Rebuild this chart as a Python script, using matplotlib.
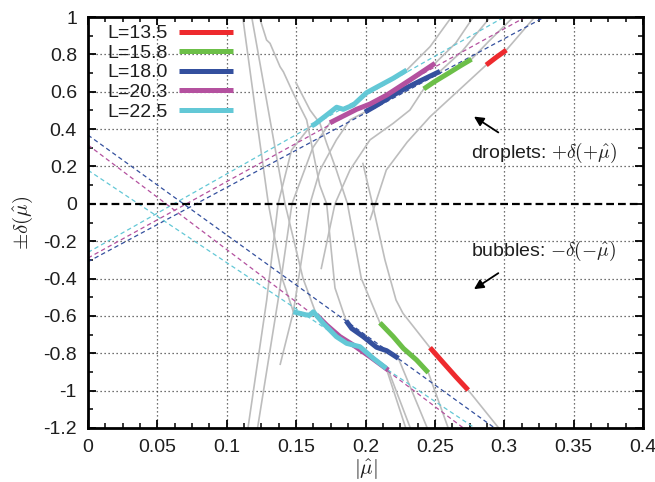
import numpy as np
import matplotlib
matplotlib.use("Agg")
import matplotlib.pyplot as plt
from matplotlib.ticker import FixedLocator, FixedFormatter, MultipleLocator

plt.rcParams['font.family'] = ['Liberation Sans', 'DejaVu Sans']
plt.rcParams['mathtext.fontset'] = 'cm'

# ---- data -------------------------------------------------------------
L_labels = ["L=13.5", "L=15.8", "L=18.0", "L=20.3", "L=22.5"]
L_colors = ["#ee2a2e", "#6cbf48", "#34509e", "#b4519f", "#63c8d6"]

# droplet branch (+delta(+mu)), selected windows
up_red_x = [0.287, 0.294, 0.3015]
up_red_y = [0.743, 0.783, 0.823]
up_green_x = [0.242, 0.250, 0.260, 0.268, 0.2764]
up_green_y = [0.615, 0.655, 0.700, 0.737, 0.774]
up_blue_x = [0.1996, 0.2080, 0.2177, 0.2280, 0.2400, 0.2537]
up_blue_y = [0.491, 0.527, 0.572, 0.615, 0.660, 0.709]
up_mag_x = [0.1744, 0.1840, 0.1936, 0.2032, 0.2153, 0.2321, 0.2501]
up_mag_y = [0.434, 0.470, 0.506, 0.534, 0.582, 0.663, 0.752]
up_cyan_x = [0.1612, 0.1636, 0.1720, 0.1792, 0.1840, 0.1912, 0.2008, 0.2080, 0.2200, 0.2297]
up_cyan_y = [0.417, 0.427, 0.475, 0.517, 0.506, 0.529, 0.595, 0.624, 0.672, 0.716]

# bubble branch (-delta(-mu)), selected windows
lo_red_x = [0.2465, 0.2560, 0.2650, 0.2740]
lo_red_y = [-0.770, -0.850, -0.925, -0.997]
lo_green_x = [0.2104, 0.2200, 0.2273, 0.2368, 0.2453]
lo_green_y = [-0.637, -0.711, -0.774, -0.836, -0.904]
lo_blue_x = [0.1860, 0.1900, 0.1984, 0.2080, 0.2152, 0.2237]
lo_blue_y = [-0.626, -0.667, -0.711, -0.768, -0.786, -0.827]
lo_mag_x = [0.1647, 0.1720, 0.1816, 0.1912, 0.2032, 0.2164]
lo_mag_y = [-0.595, -0.649, -0.711, -0.756, -0.818, -0.890]
lo_cyan_x = [0.1480, 0.1575, 0.1600, 0.1624, 0.1696, 0.1790, 0.1864, 0.1960, 0.2056, 0.2150]
lo_cyan_y = [-0.578, -0.595, -0.595, -0.578, -0.640, -0.711, -0.747, -0.765, -0.827, -0.881]

# full delta curves (grey), droplet family
gu_cyan_x = [0.1153, 0.1288, 0.1370, 0.1467, 0.1600] + up_cyan_x + [0.2465, 0.2620]
gu_cyan_y = [-1.20, -0.515, 0.000, 0.288, 0.413] + up_cyan_y + [0.841, 1.000]
gu_mag_x = [0.1222, 0.1370, 0.1470, 0.1620] + up_mag_x + [0.2650, 0.2777]
gu_mag_y = [-1.20, -0.515, 0.000, 0.300] + up_mag_y + [0.860, 1.000]
gu_blue_x = [0.1384, 0.1480, 0.1560, 0.1600, 0.1672, 0.1790, 0.1888] + up_blue_x + [0.2700, 0.2900]
gu_blue_y = [-0.863, -0.578, -0.200, 0.000, 0.181, 0.342, 0.449] + up_blue_y + [0.820, 1.000]
gu_green_x = [0.1680, 0.1780, 0.1888, 0.2032, 0.2200, 0.2320] + up_green_x + [0.2886, 0.3066]
gu_green_y = [-0.350, 0.000, 0.181, 0.342, 0.431, 0.502] + up_green_y + [0.868, 1.000]
gu_red_x = [0.2032, 0.2150, 0.2300, 0.2465] + up_red_x + [0.3220]
gu_red_y = [-0.088, 0.181, 0.330, 0.466] + up_red_y + [1.000]

# full delta curves (grey), bubble family
gl_cyan_x = [0.1115, 0.1216, 0.1300, 0.1400] + lo_cyan_x + [0.2290]
gl_cyan_y = [1.000, 0.449, 0.000, -0.400] + lo_cyan_y + [-1.200]
gl_mag_x = [0.1180, 0.1312, 0.1420, 0.1550] + lo_mag_x + [0.2323]
gl_mag_y = [1.000, 0.449, 0.000, -0.400] + lo_mag_y + [-1.200]
gl_blue_x = [0.1235, 0.1287, 0.1312, 0.1384, 0.1408, 0.1479, 0.1576, 0.1670, 0.1720, 0.1780] + lo_blue_x + [0.2445]
gl_blue_y = [1.000, 0.877, 0.859, 0.734, 0.707, 0.592, 0.449, 0.100, 0.000, -0.450] + lo_blue_y + [-1.200]
gl_green_x = [0.1495, 0.1600, 0.1672, 0.1720, 0.1790, 0.1870, 0.1970] + lo_green_x + [0.2596]
gl_green_y = [0.654, 0.502, 0.430, 0.324, 0.181, 0.000, -0.400] + lo_green_y + [-1.200]
gl_red_x = [0.1980, 0.2050, 0.2140, 0.2220, 0.2270] + lo_red_x + [0.2960]
gl_red_y = [0.220, 0.000, -0.300, -0.515, -0.586] + lo_red_y + [-1.200]

# linear fits (intercept, slope) for L=18.0, 20.3, 22.5
fit_colors = ["#34509e", "#b4519f", "#63c8d6"]
fit_up_a = [-0.31, -0.29, -0.26]
fit_up_b = [3.98, 4.09, 4.20]
fit_lo_a = [0.368, 0.315, 0.180]
fit_lo_b = [-5.35, -5.60, -4.95]

xticks = [0, 0.05, 0.1, 0.15, 0.2, 0.25, 0.3, 0.35, 0.4]
xtick_labels = ["0", "0.05", "0.1", "0.15", "0.2", "0.25", "0.3", "0.35", "0.4"]
yticks = [1, 0.8, 0.6, 0.4, 0.2, 0, -0.2, -0.4, -0.6, -0.8, -1, -1.2]
ytick_labels = ["1", "0.8", "0.6", "0.4", "0.2", "0", "-0.2", "-0.4", "-0.6", "-0.8", "-1", "-1.2"]

# ---- figure -----------------------------------------------------------
W, H = 655, 482
fig = plt.figure(figsize=(W / 100, H / 100), dpi=100)
ax = fig.add_axes([88 / W, 1 - 428 / H, (643 - 88) / W, (428 - 17) / H])
ax.set_xlim(0, 0.4)
ax.set_ylim(-1.2, 1.0)

txt = "#1e1e1e"
grey = "#bdbdbd"

# grid
for xv in xticks[1:-1]:
    ax.axvline(xv, color="#444444", lw=0.9, ls=(0, (1, 2.2)), zorder=0)
for yv in yticks[1:-1]:
    if yv != 0:
        ax.axhline(yv, color="#444444", lw=0.9, ls=(0, (1, 2.2)), zorder=0)

# grey full curves
for gx, gy in [(gu_cyan_x, gu_cyan_y), (gu_mag_x, gu_mag_y), (gu_blue_x, gu_blue_y),
               (gu_green_x, gu_green_y), (gu_red_x, gu_red_y),
               (gl_cyan_x, gl_cyan_y), (gl_mag_x, gl_mag_y), (gl_blue_x, gl_blue_y),
               (gl_green_x, gl_green_y), (gl_red_x, gl_red_y)]:
    ax.plot(gx, gy, color=grey, lw=1.2, zorder=1, solid_capstyle="butt")

# linear fits
xx = np.linspace(0, 0.4, 400)
for c, a, b in zip(fit_colors, fit_up_a, fit_up_b):
    ax.plot(xx, a + b * xx, color=c, lw=0.9, ls=(0, (3.5, 2.5)), zorder=2)
for c, a, b in zip(fit_colors, fit_lo_a, fit_lo_b):
    ax.plot(xx, a + b * xx, color=c, lw=0.9, ls=(0, (3.5, 2.5)), zorder=2)

# zero line
ax.axhline(0, color="black", lw=1.6, ls=(0, (3.5, 1.8)), zorder=3)

# selected windows
up_sets = [(up_red_x, up_red_y), (up_green_x, up_green_y), (up_blue_x, up_blue_y),
           (up_mag_x, up_mag_y), (up_cyan_x, up_cyan_y)]
lo_sets = [(lo_red_x, lo_red_y), (lo_green_x, lo_green_y), (lo_blue_x, lo_blue_y),
           (lo_mag_x, lo_mag_y), (lo_cyan_x, lo_cyan_y)]
handles = []
for lab, c, (ux, uy), (lx, ly) in zip(L_labels, L_colors, up_sets, lo_sets):
    h, = ax.plot(ux, uy, color=c, lw=3.6, solid_capstyle="butt", zorder=4, label=lab)
    ax.plot(lx, ly, color=c, lw=3.6, solid_capstyle="butt", zorder=4)
    handles.append(h)

leg = ax.legend(handles=handles, loc="upper left", bbox_to_anchor=(0.012, 1.012),
                frameon=False, markerfirst=False, fontsize=14, handlelength=2.75,
                handletextpad=0.6, labelspacing=0.1, borderaxespad=0.25)
for t in leg.get_texts():
    t.set_color(txt)

# annotations
ax.annotate("", xy=(0.2765, 0.475), xytext=(0.2974, 0.374),
            arrowprops=dict(arrowstyle="-|>", color="black", lw=1.3, mutation_scale=14))
ax.annotate("", xy=(0.2765, -0.465), xytext=(0.2974, -0.363),
            arrowprops=dict(arrowstyle="-|>", color="black", lw=1.3, mutation_scale=14))
ax.text(0.2762, 0.272, r"droplets: $+\delta(+\hat{\mu})$", fontsize=14, color=txt,
        va="center", ha="left")
ax.text(0.2762, -0.253, r"bubbles: $-\delta(-\hat{\mu})$", fontsize=14, color=txt,
        va="center", ha="left")

# axes styling
ax.xaxis.set_major_locator(FixedLocator(xticks))
ax.xaxis.set_major_formatter(FixedFormatter(xtick_labels))
ax.yaxis.set_major_locator(FixedLocator(yticks))
ax.yaxis.set_major_formatter(FixedFormatter(ytick_labels))
ax.xaxis.set_minor_locator(MultipleLocator(0.0125))
ax.yaxis.set_minor_locator(MultipleLocator(0.1))
ax.tick_params(which="both", direction="in", top=True, right=True, colors="black",
               labelcolor=txt, labelsize=14)
ax.tick_params(which="major", length=6, width=1.3, pad=8)
ax.tick_params(which="minor", length=3.5, width=1.1)
for s in ax.spines.values():
    s.set_linewidth(2.0)

ax.set_xlabel(r"$|\hat{\mu}|$", fontsize=15, color=txt, labelpad=1)
ax.set_ylabel(r"$\pm\delta(\hat{\mu})$", fontsize=15, color=txt, labelpad=6)

fig.savefig("out.png", dpi=100)
